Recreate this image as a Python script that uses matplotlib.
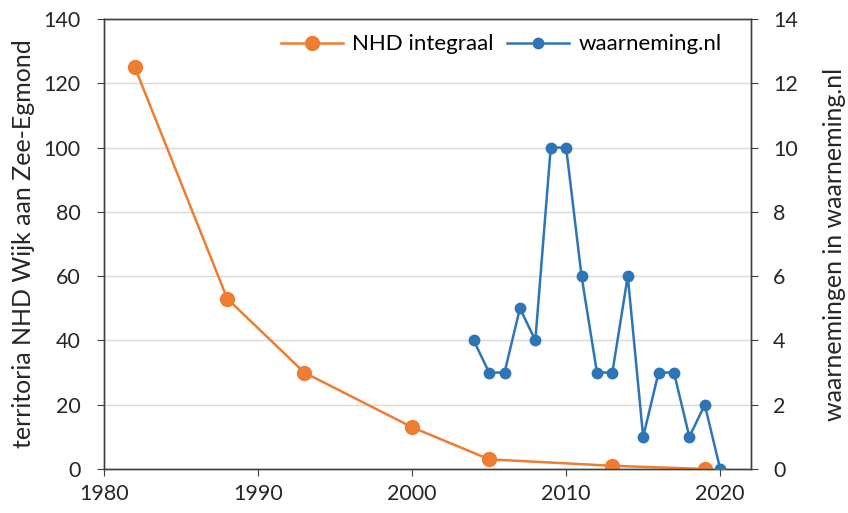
import matplotlib
matplotlib.use("Agg")
import matplotlib.pyplot as plt

plt.rcParams['font.family'] = ['Lato', 'DejaVu Sans']

nhd_years = [1982, 1988, 1993, 2000, 2005, 2013, 2019]
nhd_values = [125, 53, 30, 13, 3, 1, 0]

wn_years = [2004, 2005, 2006, 2007, 2008, 2009, 2010, 2011, 2012, 2013,
            2014, 2015, 2016, 2017, 2018, 2019, 2020]
wn_values = [4, 3, 3, 5, 4, 10, 10, 6, 3, 3, 6, 1, 3, 3, 1, 2, 0]

x_ticks = [1980, 1990, 2000, 2010, 2020]
left_ticks = [0, 20, 40, 60, 80, 100, 120, 140]
right_ticks = [0, 2, 4, 6, 8, 10, 12, 14]

orange = '#ED7D31'
blue = '#2E75B6'

fig = plt.figure(figsize=(8.48, 5.13), dpi=100)
ax = fig.add_axes([104/848, 1 - 469/513, (751-104)/848, (469-19)/513])
ax2 = ax.twinx()

ax.set_xlim(1980, 2022)
ax.set_ylim(0, 140)
ax2.set_ylim(0, 14)
ax.set_xticks(x_ticks)
ax.set_yticks(left_ticks)
ax2.set_yticks(right_ticks)
ax.yaxis.grid(True, color='#D9D9D9', linewidth=1)
ax.set_axisbelow(True)

for a in (ax, ax2):
    for s in a.spines.values():
        s.set_color('#404040')
        s.set_linewidth(1.0)
    a.tick_params(labelsize=15.5, length=5, color='#404040', labelcolor='#262626', direction='out')
ax.tick_params(axis='y', pad=12)
ax2.tick_params(axis='y', pad=11)
ax.tick_params(axis='x', pad=6)

l1, = ax.plot(nhd_years, nhd_values, color=orange, lw=1.8, marker='o', ms=10,
              label='NHD integraal', zorder=3)
l2, = ax2.plot(wn_years, wn_values, color=blue, lw=1.8, marker='o', ms=7.5,
               label='waarneming.nl', zorder=3)

ax.set_ylabel('territoria NHD Wijk aan Zee-Egmond', fontsize=18, color='#262626', labelpad=6)
ax2.set_ylabel('waarnemingen in waarneming.nl', fontsize=18, color='#262626', labelpad=18)

ax2.legend(handles=[l1, l2], loc='upper right', ncol=2, frameon=False, fontsize=16,
           handlelength=2.8, columnspacing=0.6, handletextpad=0.4,
           bbox_to_anchor=(0.985, 1.01))

fig.savefig('out.png', dpi=100)
